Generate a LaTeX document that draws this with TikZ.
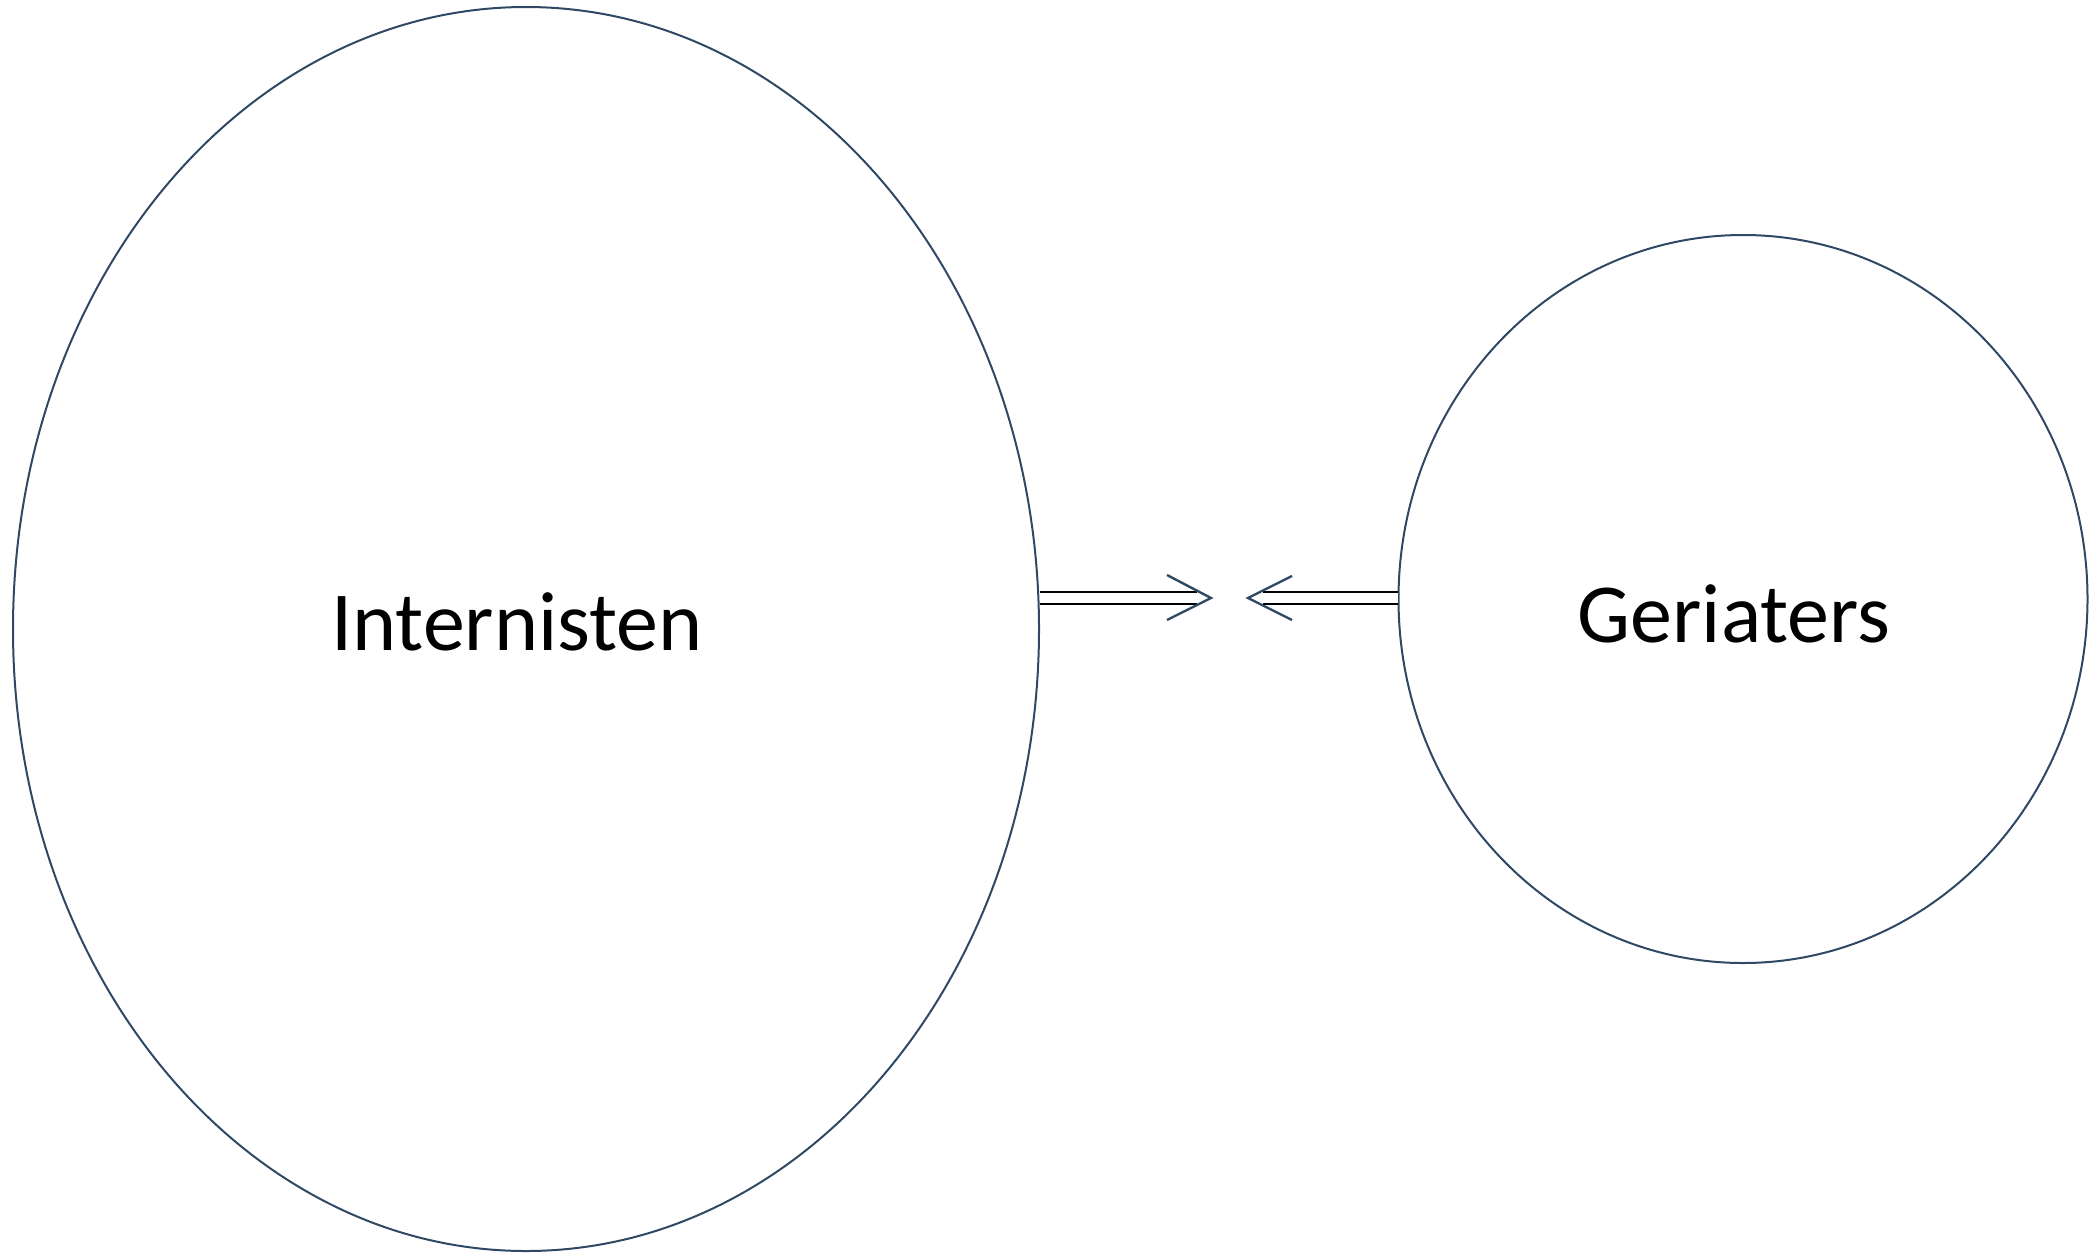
\documentclass[tikz,border=0pt]{standalone}
\usepackage{fontspec}
\setmainfont{Carlito}
\usetikzlibrary{shapes.geometric,calc}
\definecolor{rim}{RGB}{47, 72, 100}

\begin{document}
\begin{tikzpicture}[x=0.5pt, y=-0.5pt,
    blob/.style={ellipse, draw=rim, line width=1pt, inner sep=0pt},
    lbl/.style={font=\fontsize{42}{50}\selectfont, inner sep=0pt},
    dline/.style={draw=black, line width=1pt, double=white, double distance=5.3pt},
    chev/.style={draw=rim, line width=1.2pt}]
  \useasboundingbox (0,0) rectangle (2093,1253);

  % de twee groepen
  \node[blob, minimum width=513pt, minimum height=622pt] (int) at (526,629) {};
  \node[blob, minimum width=344.5pt, minimum height=364pt] (ger) at (1743,599) {};
  \node[lbl] (intlbl) at (517,622) {Internisten};
  \node[lbl] (gerlbl) at (1734,614) {Geriaters};

  % pijlen naar elkaar toe
  \coordinate (tipA) at (1211,598);
  \coordinate (tipB) at (1248,598);
  \draw[dline] (int.east |- tipA) -- ([xshift=-7pt]tipA);
  \draw[chev] ($(tipA)+(-44,-23)$) -- (tipA) -- ($(tipA)+(-44,22)$);
  \draw[dline] (ger.west |- tipB) -- ([xshift=7.5pt]tipB);
  \draw[chev] ($(tipB)+(44,-22)$) -- (tipB) -- ($(tipB)+(44,22)$);
\end{tikzpicture}
\end{document}
